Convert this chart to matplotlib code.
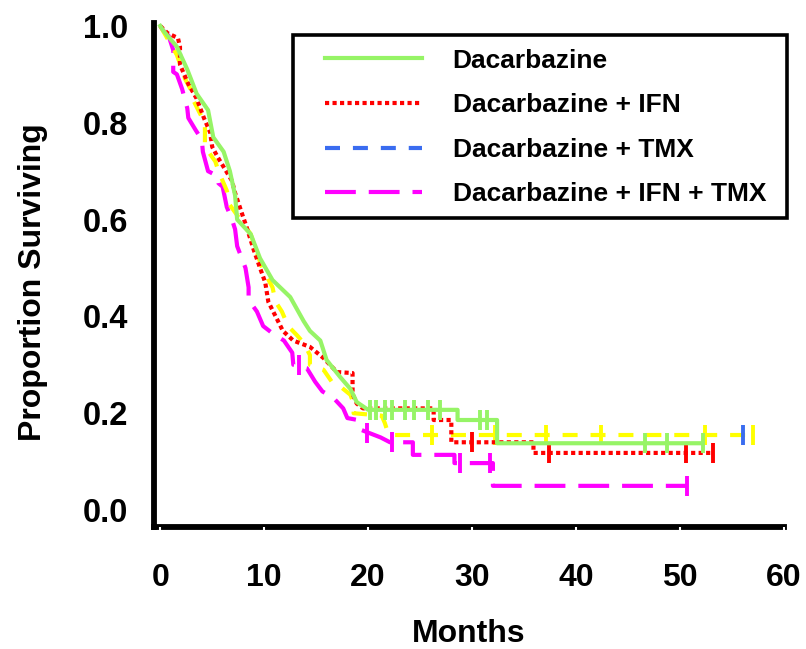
import matplotlib
matplotlib.use('Agg')
import matplotlib.pyplot as plt
from matplotlib.lines import Line2D
from matplotlib.patches import Rectangle

plt.rcParams['font.family'] = ['Liberation Sans', 'DejaVu Sans']
plt.rcParams['font.weight'] = 'bold'

# ---------------- data ----------------
series_names = ["Dacarbazine", "Dacarbazine + IFN", "Dacarbazine + TMX",
                "Dacarbazine + IFN + TMX"]

dtic_t = [0, 0.3, 1.6, 2.6, 3.5, 4.6, 5.1, 6.1, 6.7, 7.2, 7.4, 8.7, 9.6, 10.8, 12.5,
          13.8, 14.4, 15.4, 16.0, 17.3, 18.3, 18.9, 20.0, 28.6, 28.6, 32.4, 32.4, 52.2]
dtic_s = [1.0, 0.99, 0.957, 0.91, 0.86, 0.826, 0.77, 0.74, 0.70, 0.65, 0.60, 0.57, 0.52,
          0.475, 0.44, 0.39, 0.37, 0.35, 0.31, 0.275, 0.25, 0.223, 0.207, 0.207, 0.186,
          0.186, 0.138, 0.138]
dtic_censor_t = [20.2, 20.8, 21.6, 22.3, 23.5, 24.4, 25.8, 26.9, 30.8, 31.4, 46.6, 48.7, 52.2]
dtic_censor_s = [0.207, 0.207, 0.207, 0.207, 0.207, 0.207, 0.207, 0.207, 0.186, 0.186,
                 0.138, 0.138, 0.138]

ifn_t = [0, 0.7, 1.7, 1.9, 1.9, 2.7, 3.5, 4.2, 4.8, 5.0, 5.5, 6.9, 7.2, 7.9, 8.3, 9.0, 9.6,
         10.1, 10.4, 11.1, 11.8, 12.8, 14.4, 15.7, 17.0, 18.5, 18.5, 18.9, 19.5, 26.3, 26.3,
         28.0, 28.0, 35.9, 35.9, 53.2]
ifn_s = [1.0, 0.985, 0.975, 0.957, 0.92, 0.88, 0.85, 0.81, 0.78, 0.75, 0.73, 0.68, 0.655,
         0.61, 0.585, 0.537, 0.50, 0.47, 0.43, 0.40, 0.37, 0.35, 0.337, 0.314, 0.285, 0.283,
         0.24, 0.22, 0.21, 0.21, 0.186, 0.186, 0.14, 0.14, 0.118, 0.118]
ifn_censor_t = [30.0, 37.4, 50.6, 53.2]
ifn_censor_s = [0.14, 0.118, 0.118, 0.118]

tmx_t = [0, 1.6, 2.1, 2.4, 2.9, 3.1, 3.8, 4.3, 4.3, 5.3, 5.6, 6.4, 6.7, 8.7, 9.8, 10.8,
         11.1, 11.7, 12.3, 13.2, 13.8, 14.4, 14.4, 15.7, 16.5, 17.5, 18.3, 18.6, 18.6, 21.3,
         21.6, 21.9, 22.2, 57.0]
tmx_s = [1.0, 0.94, 0.91, 0.89, 0.87, 0.85, 0.82, 0.80, 0.75, 0.72, 0.70, 0.66, 0.63, 0.57,
         0.50, 0.46, 0.43, 0.41, 0.38, 0.36, 0.345, 0.32, 0.30, 0.29, 0.265, 0.252, 0.238,
         0.22, 0.20, 0.195, 0.18, 0.16, 0.155, 0.155]
tmx_censor_t = [26.1, 32.2, 37.1, 42.4, 52.4, 57.0]
tmx_censor_s = [0.155, 0.155, 0.155, 0.155, 0.155, 0.155]
tmx_blue_censor_t = [56.1]
tmx_blue_censor_s = [0.155]

both_t = [0, 0.3, 0.8, 1.25, 1.25, 1.6, 2.1, 2.6, 2.7, 3.4, 4.0, 4.1, 4.6, 5.5, 5.6, 6.0,
          6.2, 6.4, 6.9, 7.2, 7.4, 8.2, 8.5, 8.5, 9.3, 9.9, 10.8, 11.4, 11.9, 12.7, 12.8,
          14.1, 14.9, 15.6, 16.6, 17.6, 18.0, 19.0, 19.4, 21.2, 22.1, 24.3, 24.3, 28.3,
          28.3, 32.0, 32.0, 50.7]
both_s = [1.0, 0.99, 0.98, 0.95, 0.905, 0.90, 0.87, 0.83, 0.81, 0.785, 0.765, 0.74, 0.70,
          0.69, 0.675, 0.668, 0.647, 0.626, 0.60, 0.58, 0.545, 0.50, 0.46, 0.434, 0.41,
          0.38, 0.365, 0.357, 0.35, 0.325, 0.30, 0.293, 0.265, 0.245, 0.233, 0.21, 0.19,
          0.186, 0.165, 0.15, 0.14, 0.14, 0.114, 0.114, 0.097, 0.097, 0.05, 0.05]
both_censor_t = [13.3, 19.9, 22.3, 28.8, 31.7, 50.7]
both_censor_s = [0.30, 0.16, 0.14, 0.097, 0.097, 0.05]

x_ticks = [0, 10, 20, 30, 40, 50, 60]
x_tick_labels = ["0", "10", "20", "30", "40", "50", "60"]
y_ticks = [0.0, 0.2, 0.4, 0.6, 0.8, 1.0]
y_tick_labels = ["0.0", "0.2", "0.4", "0.6", "0.8", "1.0"]

# ---------------- styles ----------------
GREEN = '#96F466'
RED = '#FF0000'
YELLOW = '#FFFF00'
MAGENTA = '#FF00FF'
BLUE = '#3A6CF0'
LW = 3.0
ST_DOT = (0, (1.0, 0.8))
ST_DASH = (0, (3.6, 3.1))
ST_LONG = (0, (7.4, 3.1))
CMS = 14
CMEW = 2.8

fig = plt.figure(figsize=(8.06, 6.49), dpi=100)
ax = fig.add_axes([154 / 806, 1 - 527 / 649, (784 - 154) / 806, (527 - 23) / 649])

ax.plot(both_t, both_s, color=MAGENTA, lw=LW, linestyle=ST_LONG, zorder=3)
ax.plot(both_censor_t, both_censor_s, linestyle='none', marker='|', ms=CMS, mew=CMEW,
        color=MAGENTA, zorder=3)
ax.plot(tmx_t, tmx_s, color=YELLOW, lw=LW, linestyle=ST_DASH, zorder=4)
ax.plot(tmx_censor_t, tmx_censor_s, linestyle='none', marker='|', ms=CMS, mew=CMEW,
        color=YELLOW, zorder=4)
ax.plot(tmx_blue_censor_t, tmx_blue_censor_s, linestyle='none', marker='|', ms=CMS,
        mew=CMEW, color=BLUE, zorder=4.1)
ax.plot(ifn_t, ifn_s, color=RED, lw=LW, linestyle=ST_DOT, zorder=5)
ax.plot(ifn_censor_t, ifn_censor_s, linestyle='none', marker='|', ms=CMS, mew=CMEW,
        color=RED, zorder=5)
ax.plot(dtic_t, dtic_s, color=GREEN, lw=LW, linestyle='-', zorder=6)
ax.plot(dtic_censor_t, dtic_censor_s, linestyle='none', marker='|', ms=CMS, mew=CMEW,
        color=GREEN, zorder=6)

ax.set_xlim(-0.6, 60.0)
ax.set_ylim(-0.035, 1.006)

for side in ('top', 'right'):
    ax.spines[side].set_visible(False)
for side in ('left', 'bottom'):
    ax.spines[side].set_linewidth(4.2)
    ax.spines[side].set_color('black')
    ax.spines[side].set_capstyle('projecting')

ax.set_axisbelow(False)
ax.set_xticks(x_ticks)
ax.set_xticklabels(x_tick_labels)
ax.set_yticks(y_ticks)
ax.set_yticklabels(y_tick_labels)
ax.tick_params(axis='x', direction='out', length=2.0, width=1.5, color='white',
               pad=24, labelsize=23)
ax.tick_params(axis='y', length=0, pad=18.5, labelsize=23.5)
for lab in ax.get_xticklabels() + ax.get_yticklabels():
    lab.set_fontweight('bold')

ax.set_xlabel("Months", fontsize=23, fontweight='bold', labelpad=19)
ax.set_ylabel("Proportion Surviving", fontsize=23, fontweight='bold')
ax.yaxis.set_label_coords(-0.168, 0.486)

# legend frame
frame = Rectangle((0.2206, 0.6131), 1.0048 - 0.2206, 0.9762 - 0.6131,
                  transform=ax.transAxes, facecolor='white', edgecolor='black',
                  linewidth=2.6, clip_on=False, zorder=9)
ax.add_patch(frame)

handles = [
    Line2D([], [], color=GREEN, lw=LW, linestyle='-'),
    Line2D([], [], color=RED, lw=LW, linestyle=ST_DOT),
    Line2D([], [], color=BLUE, lw=LW, linestyle=ST_DASH),
    Line2D([], [], color=MAGENTA, lw=LW, linestyle=ST_LONG),
]
leg = ax.legend(handles, series_names, loc='upper left', bbox_to_anchor=(0.2714, 0.949),
                borderaxespad=0, borderpad=0, handlelength=3.67, handletextpad=1.17,
                labelspacing=0.78, frameon=False,
                prop={'weight': 'bold', 'size': 19})
leg.set_zorder(10)

fig.savefig('out.png', dpi=100)
